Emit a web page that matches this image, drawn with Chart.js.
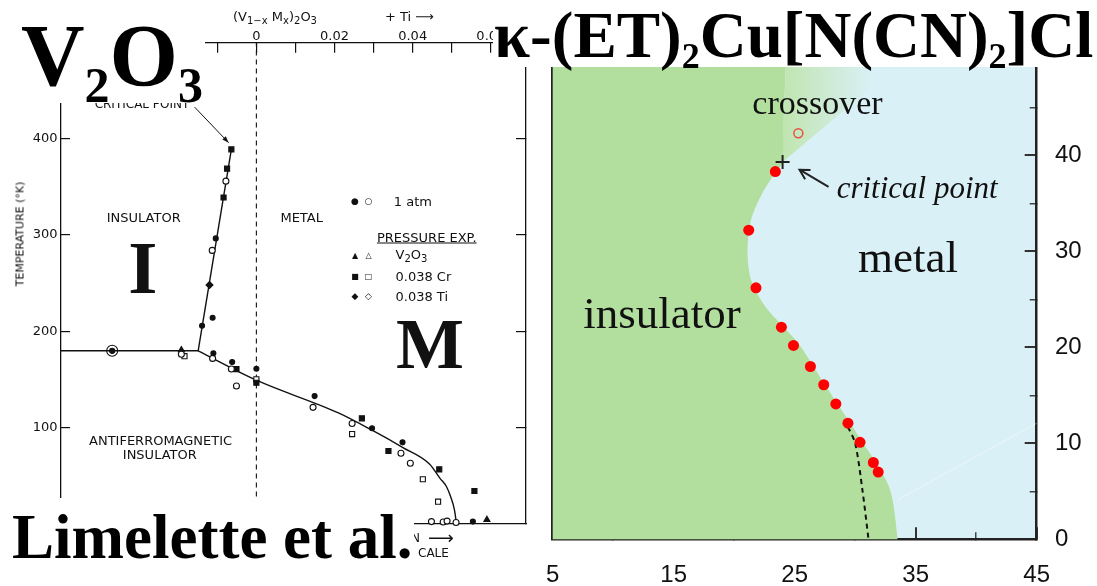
<!DOCTYPE html>
<html>
<head>
<meta charset="utf-8">
<script src="https://cdn.jsdelivr.net/npm/chart.js@4"></script>
<style>
html, body { margin: 0; padding: 0; background: #fff; }
#wrap { position: relative; width: 1097px; height: 586px; overflow: hidden; background: #fff; }
canvas { position: absolute; top: 0; }
#left { left: 0; }
#right { left: 540px; }
.lbl { position: absolute; white-space: nowrap; color: #111; z-index: 2; }
.box { position: absolute; background: #fff; z-index: 5; }
.ttl { position: absolute; white-space: nowrap; color: #000; z-index: 6; font-family: 'Liberation Serif', serif; font-weight: bold; }
sub { line-height: 0; }
</style>
</head>
<body>
<div id="wrap">
  <canvas id="left" width="540" height="586"></canvas>
  <canvas id="right" width="557" height="586"></canvas>
</div>
<script>
// ======================= V2O3 panel (left) =======================
const v2o3XTicks = [-0.04, -0.03, -0.02, -0.01, 0, 0.01, 0.02, 0.03, 0.04, 0.05, 0.06];
const v2o3TTicks = [100, 200, 300, 400];

// phase boundary lines
const afiLineX = [-0.05, -0.0149];
const afiLineT = [179.6, 179.6];
const miLineX = [-0.0149, -0.0064];
const miLineT = [179.6, 389];
const neelLineX = [-0.0149, 0, 0.021, 0.0296, 0.0375, 0.0443, 0.047, 0.0487, 0.0497, 0.0507, 0.0512];
const neelLineT = [179.6, 149, 115, 97, 79, 62, 47, 38, 28, 14, 0];
const zeroLineX = [0, 0];
const zeroLineT = [0, 500];
const cpArrowX = [-0.0158, -0.0071];
const cpArrowT = [433, 396];

// markers
const atmFilledX = [-0.0104, -0.0112, -0.0139, -0.011, -0.0062, 0, 0.0149, 0.0296, 0.0374, 0.0554];
const atmFilledT = [296.5, 214, 205.6, 177, 168, 161, 132.5, 99, 84.4, 2];
const atmOpenX = [-0.0078, -0.0113, -0.0192, -0.0112, -0.0064, -0.0051, 0.0145, 0.0245, 0.037, 0.0394, 0.0448, 0.0478, 0.0488, 0.0511];
const atmOpenT = [356, 284, 176, 171.7, 160.6, 143, 120.8, 104, 73, 62.6, 2, 1.5, 2.5, 1];
const v2o3FilledX = [-0.0192, 0.059];
const v2o3FilledT = [180.4, 4];
const crFilledX = [-0.0064, -0.0075, -0.0084, -0.0051, 0, 0.027, 0.0338, 0.0468, 0.0558];
const crFilledT = [389, 369, 339, 160.6, 146.4, 109.4, 75.4, 56.3, 33.8];
const crOpenX = [-0.0184, 0, 0.0245, 0.0426, 0.0465];
const crOpenT = [174, 150, 93, 46, 22.7];
const tiFilledX = [-0.012];
const tiFilledT = [248];
const ringX = [-0.0369];
const ringT = [179.6];

// ======================= kappa-(ET)2Cu[N(CN)2]Cl panel (right) =======================
const etXTicks = [5, 15, 25, 35, 45];
const etXMinor = [10, 20, 30, 40];
const etYTicks = [0, 10, 20, 30, 40, 50];
const etYMinor = [5, 15, 25, 35, 45];

const mitP = [23.4, 21.2, 21.8, 23.9, 24.9, 26.3, 27.4, 28.4, 29.4, 30.4, 31.5, 31.9];
const mitT = [38.3, 32.2, 26.2, 22.1, 20.2, 18.0, 16.1, 14.1, 12.1, 10.1, 8.0, 7.0];
const crossPtP = [25.3];
const crossPtT = [42.3];
const critP = [24.0];
const critT = [39.3];

// insulating region outline (corners lie outside the frame)
const insP = [0, 0, 24.6, 24.3, 24.1, 24.0, 23.4, 22.3, 21.4, 21.1, 21.4, 22.6, 25.3, 27.5, 29.6, 30.65, 31.7, 32.9, 33.5, 33.7];
const insT = [-5, 55, 55, 50, 44, 39.3, 38.2, 36.0, 33.3, 30.1, 27.0, 24.2, 20.4, 16.1, 12.1, 10.0, 8.0, 5.1, 0, -5];
const crossoverP = [24.0, 24.1, 24.3, 24.6, 38.8];
const crossoverT = [39.3, 44, 50, 55, 55];
const spinodalP = [29.4, 30.0, 30.6, 31.1];
const spinodalT = [11.7, 10.0, 5.1, 0];
const faintP = [33.5, 45];
const faintT = [4.1, 12.1];
const etArrowP = [27.8, 25.4];
const etArrowT = [36.7, 38.5];

const GREEN = 'rgb(179,223,158)';
const BLUE = 'rgb(218,240,247)';

function pts(xs, ys) {
  return xs.map((x, i) => ({x: x, y: ys[i]}));
}

// draws a head on the last segment of datasets that have arrowHead set
const arrowPlugin = {
  id: 'arrowHeads',
  afterDatasetsDraw(chart) {
    const ctx = chart.ctx;
    chart.data.datasets.forEach((ds, i) => {
      if (!ds.arrowHead) return;
      const els = chart.getDatasetMeta(i).data;
      const a = els[els.length - 2], b = els[els.length - 1];
      const ang = Math.atan2(b.y - a.y, b.x - a.x);
      const len = ds.arrowHead.size;
      const w = ds.arrowHead.spread;
      ctx.save();
      ctx.strokeStyle = ds.borderColor;
      ctx.fillStyle = ds.borderColor;
      ctx.lineWidth = ds.borderWidth;
      ctx.beginPath();
      ctx.moveTo(b.x - len * Math.cos(ang - w), b.y - len * Math.sin(ang - w));
      ctx.lineTo(b.x, b.y);
      ctx.lineTo(b.x - len * Math.cos(ang + w), b.y - len * Math.sin(ang + w));
      if (ds.arrowHead.filled) { ctx.closePath(); ctx.fill(); } else { ctx.stroke(); }
      ctx.restore();
    });
  }
};

const areaBgPlugin = {
  id: 'areaBg',
  beforeDraw(chart, args, opts) {
    if (!opts.color) return;
    const a = chart.chartArea;
    chart.ctx.save();
    chart.ctx.fillStyle = opts.color;
    chart.ctx.fillRect(a.left, a.top, a.right - a.left, a.bottom - a.top);
    chart.ctx.restore();
  }
};

function lineDs(xs, ys, extra) {
  return Object.assign({
    data: pts(xs, ys), showLine: true, borderColor: '#111', borderWidth: 1.4,
    pointRadius: 0, fill: false, clip: false, order: 5
  }, extra || {});
}
function markDs(xs, ys, style, radius, filled, extra) {
  return Object.assign({
    data: pts(xs, ys), showLine: false, pointStyle: style, pointRadius: radius,
    pointBackgroundColor: filled ? '#111' : '#fff', pointBorderColor: '#111',
    pointBorderWidth: 1.1, clip: false, order: 1
  }, extra || {});
}

const fixTicks = list => scale => { scale.ticks = list.map(v => ({value: v})); };
// set the axis band size and stop the labels from pushing the plot area inwards
function fixSize(prop, size) {
  return s => {
    s[prop] = size;
    s.paddingLeft = 0; s.paddingRight = 0; s.paddingTop = 0; s.paddingBottom = 0;
  };
}

// ----- left chart -----
new Chart(document.getElementById('left'), {
  type: 'scatter',
  data: {
    datasets: [
      lineDs(zeroLineX, zeroLineT, {borderDash: [5, 4], borderWidth: 1.1}),
      lineDs(afiLineX, afiLineT),
      lineDs(miLineX, miLineT),
      lineDs(neelLineX, neelLineT, {cubicInterpolationMode: 'monotone'}),
      lineDs(cpArrowX, cpArrowT, {borderWidth: 1, arrowHead: {size: 7, spread: 0.35, filled: true}}),
      markDs(atmFilledX, atmFilledT, 'circle', 2.5, true),
      markDs(atmOpenX, atmOpenT, 'circle', 3, false),
      markDs(v2o3FilledX, v2o3FilledT, 'triangle', 3.5, true),
      markDs(crFilledX, crFilledT, 'rect', 3.6, true),
      markDs(crOpenX, crOpenT, 'rect', 3.6, false),
      markDs(tiFilledX, tiFilledT, 'rectRot', 3.5, true),
      markDs(ringX, ringT, 'circle', 5.5, false, {pointBackgroundColor: 'rgba(0,0,0,0)', order: 2}),
      markDs(ringX, ringT, 'circle', 2.6, true, {order: 0})
    ]
  },
  options: {
    responsive: false, animation: false, events: [],
    layout: {padding: {top: 0, left: 0, right: 0, bottom: 62.5}},
    plugins: {legend: {display: false}, tooltip: {enabled: false}},
    scales: {
      x: {
        type: 'linear', position: 'top', min: -0.05, max: 0.069, z: 1,
        afterBuildTicks: fixTicks(v2o3XTicks),
        afterFit: fixSize('height', 42.7),
        grid: {drawOnChartArea: false, tickLength: -10, color: '#111', lineWidth: 1.2},
        border: {color: '#111', width: 1.3},
        ticks: {
          autoSkip: false, maxRotation: 0, padding: 7.8, color: '#111',
          font: {family: 'DejaVu Sans', size: 13},
          callback: v => {
            const k = Math.round(v * 100);
            if (k % 2 !== 0) return '';
            return k === 0 ? '0' : (v).toFixed(2);
          }
        }
      },
      xB: {
        type: 'linear', position: 'bottom', min: -0.05, max: 0.069, z: 1,
        afterFit: fixSize('height', 0),
        grid: {drawOnChartArea: false, drawTicks: false},
        border: {color: '#111', width: 1.3},
        ticks: {display: false}
      },
      y: {
        type: 'linear', position: 'left', min: 0, max: 500, z: 1,
        afterBuildTicks: fixTicks(v2o3TTicks),
        afterFit: fixSize('width', 61),
        grid: {drawOnChartArea: false, tickLength: -9, color: '#111', lineWidth: 1.2},
        border: {color: '#111', width: 1.3},
        ticks: {padding: 12.5, color: '#111', font: {family: 'DejaVu Sans', size: 13}}
      },
      yR: {
        type: 'linear', position: 'right', min: 0, max: 500, z: 1,
        afterBuildTicks: fixTicks(v2o3TTicks),
        afterFit: fixSize('width', 14),
        grid: {drawOnChartArea: false, tickLength: -10, color: '#111', lineWidth: 1.2},
        border: {color: '#111', width: 1.3},
        ticks: {display: false}
      }
    }
  },
  plugins: [arrowPlugin]
});

// ----- right chart -----
new Chart(document.getElementById('right'), {
  type: 'scatter',
  data: {
    datasets: [
      {data: pts(insP, insT), showLine: true, borderWidth: 0, pointRadius: 0, order: 10,
       backgroundColor: GREEN, borderColor: GREEN, fill: 'shape', tension: 0.3},
      {data: pts(crossoverP, crossoverT), showLine: true, borderWidth: 0, pointRadius: 0, fill: 'shape',
       order: 9, borderColor: 'rgba(0,0,0,0)',
       backgroundColor: function (context) {
         const chart = context.chart;
         if (!chart.chartArea) return 'rgba(179,223,158,0.5)';
         const xs = chart.scales.x;
         const g = chart.ctx.createLinearGradient(xs.getPixelForValue(24.2), 0, xs.getPixelForValue(31.5), 0);
         g.addColorStop(0, 'rgba(190,228,170,0.9)');
         g.addColorStop(1, 'rgba(190,228,170,0)');
         return g;
       }},
      {data: pts(faintP, faintT), showLine: true, borderColor: 'rgba(255,255,255,0.3)', borderWidth: 1.5,
       pointRadius: 0, order: 8},
      {data: pts(spinodalP, spinodalT), showLine: true, borderColor: '#111', borderWidth: 2,
       borderDash: [5, 4], pointRadius: 0, tension: 0.3, order: 5},
      {data: pts(etArrowP, etArrowT), showLine: true, borderColor: '#222', borderWidth: 2, pointRadius: 0,
       order: 4, arrowHead: {size: 11, spread: 0.5, filled: false}},
      {data: pts(mitP, mitT), pointRadius: 5.5, pointBackgroundColor: 'rgb(255,0,0)',
       pointBorderColor: 'rgb(255,0,0)', pointBorderWidth: 0, order: 2},
      {data: pts(crossPtP, crossPtT), pointRadius: 4.5, pointBackgroundColor: 'rgba(0,0,0,0)',
       pointBorderColor: 'rgb(232,80,70)', pointBorderWidth: 1.5, order: 2},
      {data: pts(critP, critT), pointStyle: 'cross', pointRadius: 7, pointBorderColor: '#222',
       pointBorderWidth: 2, order: 1}
    ]
  },
  options: {
    responsive: false, animation: false, events: [],
    layout: {padding: {top: 59.3, left: 12.7, right: 0, bottom: 0}},
    plugins: {legend: {display: false}, tooltip: {enabled: false}, areaBg: {color: BLUE}},
    scales: {
      xm: {
        type: 'linear', position: 'bottom', weight: 0, min: 5, max: 45, z: 1,
        afterBuildTicks: fixTicks(etXMinor),
        afterFit: fixSize('height', 0),
        grid: {drawOnChartArea: false, tickLength: -7, color: '#444', lineWidth: 1.5},
        border: {color: '#222', width: 2.5},
        ticks: {display: false}
      },
      x: {
        type: 'linear', position: 'bottom', weight: 1, min: 5, max: 45, z: 1,
        afterBuildTicks: fixTicks(etXTicks),
        afterFit: fixSize('height', 46.7),
        grid: {drawOnChartArea: false, tickLength: -12, color: '#333', lineWidth: 2},
        border: {display: false},
        ticks: {autoSkip: false, maxRotation: 0, padding: 33.3, color: '#111',
                font: {family: 'Liberation Sans', size: 24}}
      },
      ym: {
        type: 'linear', position: 'right', weight: 0, min: 0, max: 50, z: 1,
        afterBuildTicks: fixTicks(etYMinor),
        afterFit: fixSize('width', 0),
        grid: {drawOnChartArea: false, tickLength: -7, color: '#444', lineWidth: 1.5},
        border: {color: '#222', width: 2.5},
        ticks: {display: false}
      },
      y: {
        type: 'linear', position: 'right', weight: 1, min: 0, max: 50, z: 1,
        afterBuildTicks: fixTicks(etYTicks),
        afterFit: fixSize('width', 60.3),
        grid: {drawOnChartArea: false, tickLength: -12, color: '#333', lineWidth: 2},
        border: {display: false},
        ticks: {padding: 30.3, color: '#111', font: {family: 'Liberation Sans', size: 24}}
      },
      yl: {
        type: 'linear', position: 'left', min: 0, max: 50, z: 1,
        afterFit: fixSize('width', 0),
        grid: {drawOnChartArea: false, drawTicks: false},
        border: {color: '#222', width: 2.5},
        ticks: {display: false}
      }
    }
  },
  plugins: [areaBgPlugin, arrowPlugin]
});

// ======================= text =======================
const wrap = document.getElementById('wrap');
function label(html, x, y, font, align, rot) {
  const d = document.createElement('div');
  d.className = 'lbl';
  d.innerHTML = html;
  d.style.font = font;
  d.style.left = x + 'px';
  d.style.top = y + 'px';
  const tx = align === 'left' ? '0' : (align === 'right' ? '-100%' : '-50%');
  d.style.transform = 'translate(' + tx + ',-50%)' + (rot ? ' rotate(' + rot + 'deg)' : '');
  wrap.appendChild(d);
  return d;
}
function box(x, y, w, h) {
  const d = document.createElement('div');
  d.className = 'box';
  d.style.left = x + 'px'; d.style.top = y + 'px';
  d.style.width = w + 'px'; d.style.height = h + 'px';
  wrap.appendChild(d);
}
function title(html, x, baseline, size) {
  const d = document.createElement('div');
  d.className = 'ttl';
  d.innerHTML = html;
  d.style.fontSize = size + 'px';
  d.style.left = x + 'px';
  d.style.top = (baseline - 0.3375 * size) + 'px';
  d.style.transform = 'translate(0,-50%)';
  wrap.appendChild(d);
}

const sans = "'DejaVu Sans', sans-serif";
// left panel annotations
label('(V<sub style="font-size:10px">1−x</sub> M<sub style="font-size:10px">x</sub>)<sub style="font-size:10px">2</sub>O<sub style="font-size:10px">3</sub>',
      233, 16, '13px ' + sans, 'left');
label('+ Ti ⟶', 385, 16, '13px ' + sans, 'left');
label('CRITICAL POINT', 142, 104, '12px ' + sans, 'center');
label('INSULATOR', 143.7, 216.7, '13px ' + sans, 'center');
label('METAL', 301.7, 216.7, '13px ' + sans, 'center');
label('ANTIFERROMAGNETIC', 160.6, 440, '13px ' + sans, 'center');
label('INSULATOR', 159.8, 454, '13px ' + sans, 'center');
label('TEMPERATURE (°K)', 20.3, 234, '11px ' + sans, 'center', -90);
label('I', 142.9, 267.8, "bold 75px 'Liberation Serif', serif", 'center');
label('M', 430, 343.8, "bold 72px 'Liberation Serif', serif", 'center');
// legend of the left panel
label('●', 355, 201, '9px ' + sans, 'center');
label('○', 368.5, 201, '9px ' + sans, 'center');
label('1 atm', 393.8, 201, '13px ' + sans, 'left');
label('<u>PRESSURE EXP.</u>', 377, 236.7, '13px ' + sans, 'left');
label('▲', 355, 255, '8px ' + sans, 'center');
label('△', 368.5, 255, '8px ' + sans, 'center');
label('V<sub style="font-size:10px">2</sub>O<sub style="font-size:10px">3</sub>', 395.5, 254, '13px ' + sans, 'left');
label('■', 355, 276, '8px ' + sans, 'center');
label('□', 368.5, 276, '8px ' + sans, 'center');
label('0.038 Cr', 395.5, 276, '13px ' + sans, 'left');
label('◆', 355, 296, '9px ' + sans, 'center');
label('◇', 368.5, 296, '9px ' + sans, 'center');
label('0.038 Ti', 395.5, 296, '13px ' + sans, 'left');
label('N', 411, 538, '12px ' + sans, 'left');
label('⟶', 428, 537, '18px ' + sans, 'left');
label('CALE', 418, 553, '12px ' + sans, 'left');

// right panel annotations
const serif = "'Liberation Serif', serif";
label('crossover', 817.5, 103.4, '34px ' + serif, 'center');
label('critical point', 836.7, 187.5, 'italic 31px ' + serif, 'left');
label('metal', 908, 256.7, '45px ' + serif, 'center');
label('insulator', 662, 312.7, '45px ' + serif, 'center');

// title boxes on top
box(0, 0, 205, 103);
box(493, 0, 604, 66.5);
box(0, 498, 414, 88);
title('V<sub style="font-size:50px;vertical-align:-17px">2</sub>O<sub style="font-size:50px;vertical-align:-17px">3</sub>', 21, 85, 88);
title('κ-(ET)<sub style="font-size:36px;vertical-align:-11.6px">2</sub>Cu[N(CN)<sub style="font-size:36px;vertical-align:-11.6px">2</sub>]Cl', 494, 56.7, 65);
title('Limelette et al.', 12, 558.3, 63);
</script>
</body>
</html>
